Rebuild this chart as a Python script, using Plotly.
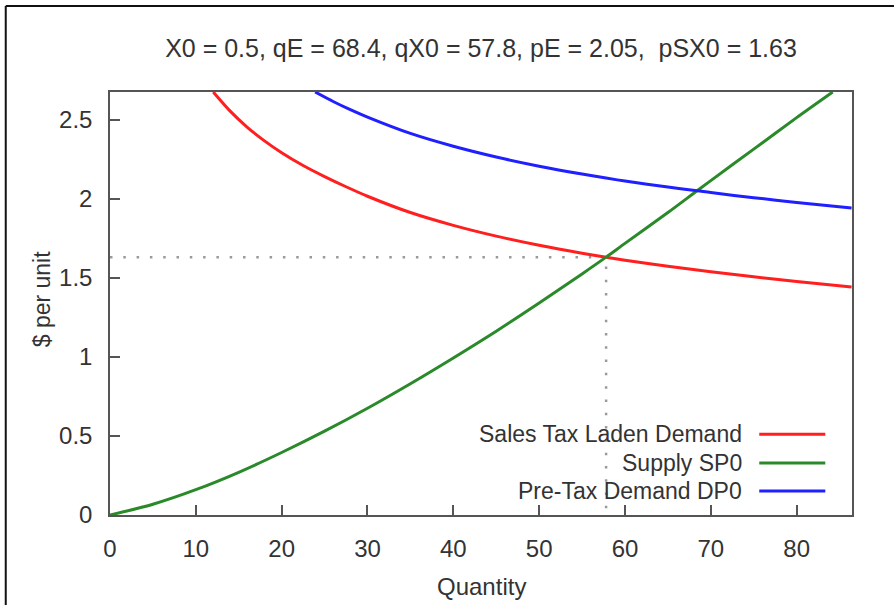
import plotly.graph_objects as go

# Market parameters shown in the title
X0 = 0.5
qE, pE = 68.4, 2.05
qX0, pSX0 = 57.8, 1.63

# Supply curve SP0
q_supply = [0, 5, 10, 15, 20, 25, 30, 35, 40, 45, 50, 55, 57.8, 60, 65, 68.4, 70, 75, 80, 84.2]
p_supply = [0, 0.068, 0.16, 0.27, 0.395, 0.53, 0.675, 0.83, 0.993, 1.162, 1.34, 1.524, 1.63,
            1.717, 1.912, 2.05, 2.114, 2.313, 2.512, 2.674]

# Pre-tax demand DP0
q_demand = [23.9, 26, 28, 30, 35, 40, 45, 50, 55, 57.8, 60, 65, 68.4, 70, 75, 80, 86.4]
p_demand = [2.674, 2.614, 2.562, 2.515, 2.412, 2.331, 2.263, 2.205, 2.155, 2.13, 2.111,
            2.073, 2.05, 2.038, 2.006, 1.976, 1.941]

# Demand with the sales tax included
q_taxed = [12.03, 14, 16, 18, 20, 22.5, 25, 27.5, 30, 35, 40, 45, 50, 55, 57.8, 60, 65, 70,
           75, 80, 86.4]
p_taxed = [2.674, 2.553, 2.451, 2.365, 2.29, 2.209, 2.139, 2.075, 2.015, 1.912, 1.831, 1.763,
           1.705, 1.655, 1.63, 1.611, 1.573, 1.538, 1.506, 1.476, 1.441]

x_range = [0, 86.45]
y_range = [0, 2.674]
x_ticks = [0, 10, 20, 30, 40, 50, 60, 70, 80]
y_ticks = [0, 0.5, 1, 1.5, 2, 2.5]
y_ticktext = ["0", "0.5", "1", "1.5", "2", "2.5"]

series = [
    ("Sales Tax Laden Demand", q_taxed, p_taxed, "#ff1f1f"),
    ("Supply SP0", q_supply, p_supply, "#2a8a2a"),
    ("Pre-Tax Demand DP0", q_demand, p_demand, "#1f1fff"),
]

FONT = "Liberation Sans, Arial, sans-serif"
TEXT = "#333333"

fig = go.Figure()

# Dotted guide lines to the taxed equilibrium
fig.add_trace(go.Scatter(
    x=[0, qX0, qX0], y=[pSX0, pSX0, 0], mode="lines",
    line=dict(color="#9a9a9a", width=2.5, dash="2.5px,10.8px"),
    hoverinfo="skip", showlegend=False,
))

for name, xs, ys, color in series:
    fig.add_trace(go.Scatter(
        x=xs, y=ys, mode="lines", name=name,
        line=dict(color=color, width=3, shape="spline", smoothing=0.8),
        showlegend=False,
    ))

# Key in the lower right: right-aligned text followed by a line sample
key_text_x = 0.855
key_line_x0, key_line_x1 = 0.875, 0.964
key_rows_y = [0.191, 0.123, 0.057]
annotations = []
shapes = []
for (name, _, _, color), ky in zip(series, key_rows_y):
    annotations.append(dict(
        text=name, xref="paper", yref="paper", x=key_text_x, y=ky,
        xanchor="right", yanchor="middle", showarrow=False,
        font=dict(family=FONT, size=23, color=TEXT),
    ))
    shapes.append(dict(
        type="line", xref="paper", yref="paper",
        x0=key_line_x0, x1=key_line_x1, y0=ky, y1=ky,
        line=dict(color=color, width=3),
    ))

# Axis titles
annotations.append(dict(
    text="Quantity", xref="paper", yref="paper", x=0.5, y=-0.168,
    xanchor="center", yanchor="middle", showarrow=False,
    font=dict(family=FONT, size=24, color=TEXT),
))
annotations.append(dict(
    text="$ per unit", xref="paper", yref="paper", x=-0.0916, y=0.51,
    xanchor="center", yanchor="middle", showarrow=False, textangle=-90,
    font=dict(family=FONT, size=23, color=TEXT),
))

# Page frame along the top and left edges
shapes.append(dict(type="line", xref="paper", yref="paper",
                   x0=-0.1405, x1=1.06, y0=1.2035, y1=1.2035,
                   line=dict(color="#111111", width=2)))
shapes.append(dict(type="line", xref="paper", yref="paper",
                   x0=-0.1405, x1=-0.1405, y0=1.2035, y1=-0.25,
                   line=dict(color="#111111", width=2)))

title = (f"X0 = {X0}, qE = {qE}, qX0 = {qX0}, pE = {pE:.2f},  pSX0 = {pSX0}")

fig.update_layout(
    width=894, height=605,
    margin=dict(l=110, r=41.5, t=91.7, b=90),
    paper_bgcolor="white", plot_bgcolor="white",
    title=dict(text=title, x=0.5, xref="paper", y=1 - 48 / 605, yref="container",
               xanchor="center", yanchor="middle",
               font=dict(family=FONT, size=25, color=TEXT)),
    annotations=annotations,
    shapes=shapes,
    showlegend=False,
)

axis_common = dict(
    showgrid=False, zeroline=False,
    showline=True, linecolor="#555555", linewidth=1.5, mirror=True,
    ticks="inside", ticklen=10, tickwidth=1.5, tickcolor="#555555",
    tickfont=dict(family=FONT, size=24, color=TEXT),
)
fig.update_xaxes(range=x_range, tickvals=x_ticks, ticklabelstandoff=11, **axis_common)
fig.update_yaxes(range=y_range, tickvals=y_ticks, ticktext=y_ticktext,
                 ticklabelstandoff=11, **axis_common)

fig.write_html("out.html")
